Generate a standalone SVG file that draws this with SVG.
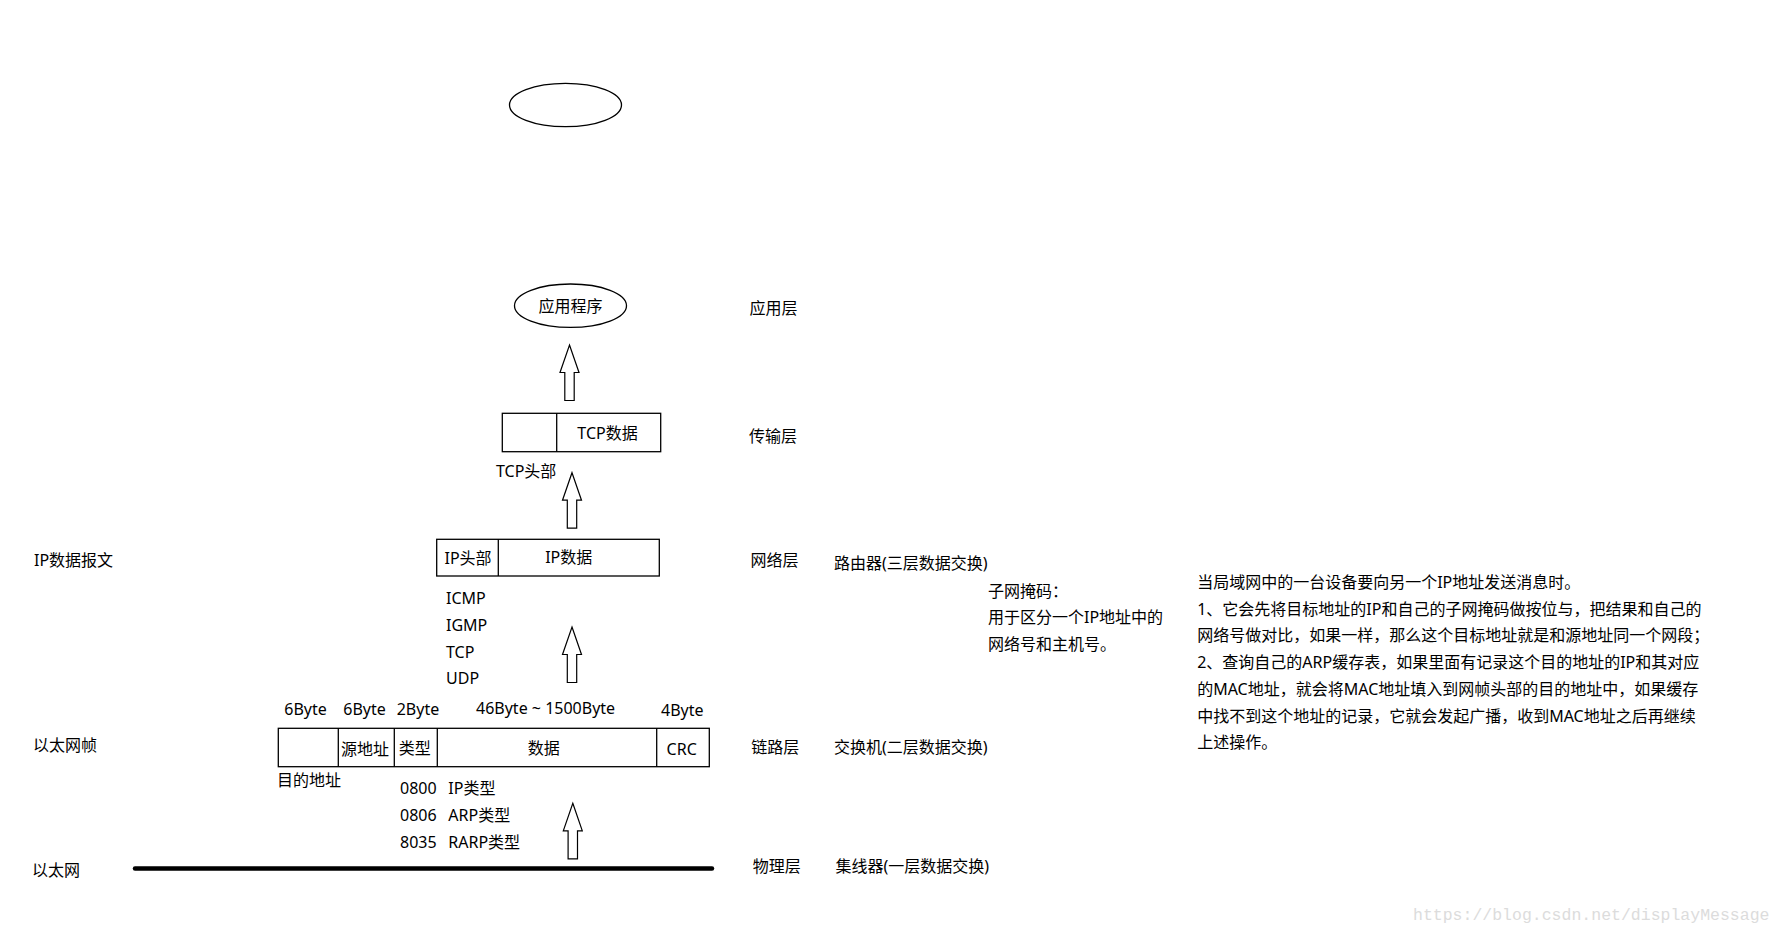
<svg xmlns="http://www.w3.org/2000/svg" width="1784" height="936" viewBox="0 0 1784 936">
<style>
text{font-family:"Noto Sans","Noto Sans CJK SC",sans-serif;font-size:16px;fill:#000}
.m{text-anchor:middle}
.box{fill:#fff;stroke:#000;stroke-width:1.3}
.arrow{fill:#fff;stroke:#000;stroke-width:1.2;stroke-linejoin:miter}
.wm{font-family:"Liberation Mono",monospace;font-size:16.5px;fill:#dcdcdc}
</style>
<defs>
<path id="uparrow" d="M0,0 L9.5,27.5 L4.7,27.5 L4.7,55.5 L-4.7,55.5 L-4.7,27.5 L-9.5,27.5 Z"/>
</defs>
<rect width="1784" height="936" fill="#fff"/>

<g id="empty-ellipse">
<ellipse class="box" cx="565.5" cy="105" rx="56" ry="21.7"/>
</g>

<g id="app">
<ellipse class="box" cx="570.5" cy="305.7" rx="56" ry="21.7"/>
<text class="m" x="570.5" y="312">应用程序</text>
</g>

<g id="tcp-segment">
<rect class="box" x="502.3" y="413.3" width="158.4" height="38.4"/>
<line x1="556.7" y1="413.3" x2="556.7" y2="451.7" stroke="#000" stroke-width="1.3"/>
<text class="m" x="607.5" y="438.5">TCP数据</text>
<text x="496" y="476.5">TCP头部</text>
</g>

<g id="ip-datagram">
<rect class="box" x="436.7" y="539.3" width="222.6" height="36.7"/>
<line x1="498.3" y1="539.3" x2="498.3" y2="576" stroke="#000" stroke-width="1.3"/>
<text x="444.5" y="564">IP头部</text>
<text class="m" x="568.7" y="562.5">IP数据</text>
<text x="446" y="603.7">ICMP</text>
<text x="446" y="630.7">IGMP</text>
<text x="446" y="657.5">TCP</text>
<text x="446" y="684.3">UDP</text>
</g>

<g id="ethernet-frame">
<rect class="box" x="278.3" y="728.3" width="431" height="38.4"/>
<g stroke="#000" stroke-width="1.3">
<line x1="338.3" y1="728.3" x2="338.3" y2="766.7"/>
<line x1="394.3" y1="728.3" x2="394.3" y2="766.7"/>
<line x1="437.3" y1="728.3" x2="437.3" y2="766.7"/>
<line x1="656.7" y1="728.3" x2="656.7" y2="766.7"/>
</g>
<text x="284.3" y="715.3">6Byte</text>
<text x="343.3" y="714.7">6Byte</text>
<text x="396.7" y="714.7">2Byte</text>
<text x="476" y="713.7">46Byte ~ 1500Byte</text>
<text x="661" y="716">4Byte</text>
<text x="341" y="754.5">源地址</text>
<text x="398.8" y="754">类型</text>
<text class="m" x="543.8" y="754">数据</text>
<text class="m" x="681.7" y="754.5">CRC</text>
<text x="277" y="785.5">目的地址</text>
<text x="400" y="794.3">0800</text>
<text x="448.3" y="794.3">IP类型</text>
<text x="400" y="821">0806</text>
<text x="448.3" y="821">ARP类型</text>
<text x="400" y="847.7">8035</text>
<text x="448.3" y="847.7">RARP类型</text>
</g>

<g id="ethernet-line">
<line x1="135" y1="868.5" x2="712" y2="868.5" stroke="#000" stroke-width="4.5" stroke-linecap="round"/>
</g>

<g id="left-labels">
<text x="34" y="566">IP数据报文</text>
<text x="33" y="750.5">以太网帧</text>
<text x="32" y="876">以太网</text>
</g>

<g id="layer-labels">
<text x="749.5" y="314">应用层</text>
<text x="749" y="441.5">传输层</text>
<text x="750.5" y="566">网络层</text>
<text x="751.2" y="753">链路层</text>
<text x="752.8" y="871.5">物理层</text>
</g>

<g id="device-labels">
<text x="834" y="569">路由器(三层数据交换)</text>
<text x="834" y="753">交换机(二层数据交换)</text>
<text x="835.5" y="871.5">集线器(一层数据交换)</text>
</g>

<g id="subnet-note">
<text x="988" y="596.5">子网掩码：</text>
<text x="988" y="623.2">用于区分一个IP地址中的</text>
<text x="988" y="649.9">网络号和主机号。</text>
</g>

<g id="arp-note">
<text x="1197.2" y="588">当局域网中的一台设备要向另一个IP地址发送消息时。</text>
<text x="1197.2" y="614.7">1、它会先将目标地址的IP和自己的子网掩码做按位与，把结果和自己的</text>
<text x="1197.2" y="641.4">网络号做对比，如果一样，那么这个目标地址就是和源地址同一个网段；</text>
<text x="1197.2" y="668.1">2、查询自己的ARP缓存表，如果里面有记录这个目的地址的IP和其对应</text>
<text x="1197.2" y="694.8">的MAC地址，就会将MAC地址填入到网帧头部的目的地址中，如果缓存</text>
<text x="1197.2" y="721.5">中找不到这个地址的记录，它就会发起广播，收到MAC地址之后再继续</text>
<text x="1197.2" y="748.2">上述操作。</text>
</g>

<g id="connectors">
<use href="#uparrow" class="arrow" x="569.5" y="345"/>
<use href="#uparrow" class="arrow" x="572" y="472.7"/>
<use href="#uparrow" class="arrow" x="572" y="627"/>
<use href="#uparrow" class="arrow" x="572.8" y="803.3"/>
</g>

<text class="wm" x="1413" y="920">https://blog.csdn.net/displayMessage</text>
</svg>
